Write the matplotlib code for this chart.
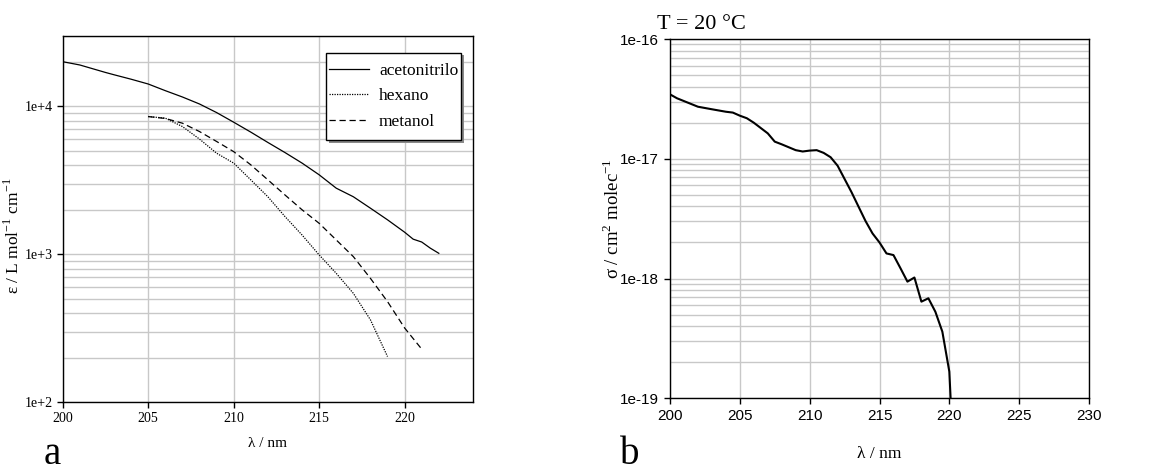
import numpy as np
import matplotlib
matplotlib.use("Agg")
import matplotlib.pyplot as plt
from matplotlib.patches import Rectangle
from matplotlib.ticker import FixedLocator, FuncFormatter, LogLocator, NullFormatter

# ---------------- data ----------------
acn_x = [200, 201, 202.5, 203, 204, 205, 206, 207, 208, 209, 210, 211, 212, 213, 214,
         215, 216, 217, 218, 219, 220, 220.5, 221, 221.5, 222]
acn_y = [20100, 19100, 17000, 16400, 15300, 14200, 12800, 11600, 10400, 9100, 7830,
         6710, 5710, 4880, 4140, 3450, 2800, 2450, 2050, 1710, 1410, 1265, 1210, 1100, 1015]

hex_x = [205, 206, 207, 208, 209, 210, 211, 212, 213, 214, 215, 216, 217, 218, 219]
hex_y = [8550, 8340, 7320, 6020, 4830, 4140, 3190, 2450, 1800, 1350, 990, 743, 544, 360, 203]

met_x = [205, 206, 207, 208, 209, 210, 211, 212, 213, 214, 215, 216, 217, 218, 219, 220, 221]
met_y = [8550, 8300, 7710, 6770, 5800, 4950, 4030, 3190, 2520, 2000, 1620, 1250, 964,
         687, 478, 317, 228]

sig_x = [200, 200.5, 202, 203, 204, 204.5, 205, 205.5, 206, 207, 207.5, 208, 209, 209.5,
         210, 210.5, 211, 211.5, 212, 212.5, 213, 213.5, 214, 214.5, 215, 215.5, 216,
         216.5, 217, 217.5, 218, 218.5, 219, 219.5, 220, 220.1]
sig_y = [3.45e-17, 3.20e-17, 2.72e-17, 2.59e-17, 2.47e-17, 2.43e-17, 2.29e-17, 2.18e-17,
         2.00e-17, 1.63e-17, 1.39e-17, 1.32e-17, 1.18e-17, 1.15e-17, 1.17e-17, 1.18e-17,
         1.12e-17, 1.03e-17, 8.75e-18, 6.78e-18, 5.25e-18, 3.98e-18, 3.02e-18, 2.38e-18,
         2.00e-18, 1.62e-18, 1.57e-18, 1.22e-18, 9.42e-19, 1.02e-18, 6.41e-19, 6.84e-19,
         5.28e-19, 3.60e-19, 1.67e-19, 9.5e-20]

labels_a = ["acetonitrilo", "hexano", "metanol"]
xticks_a = [200, 205, 210, 215, 220]
xticks_b = [200, 205, 210, 215, 220, 225, 230]

# ---------------- figure ----------------
W, H = 1152, 474
fig = plt.figure(figsize=(W / 100, H / 100), dpi=100)
serif = "Liberation Serif"
sans = "Liberation Sans"
grid_c = "#c8c8c8"

def ax_rect(l, t, r, b):
    return [l / W, 1 - b / H, (r - l) / W, (b - t) / H]

# ---- panel a ----
A_L, A_T, A_R, A_B = 62.7, 36, 473, 402
axa = fig.add_axes(ax_rect(A_L, A_T, A_R, A_B))
axa.plot(acn_x, acn_y, color="black", lw=0.9, ls="-", label=labels_a[0])
axa.plot(hex_x, hex_y, color="black", lw=0.9, ls=(0, (1, 1)), label=labels_a[1])
axa.plot(met_x, met_y, color="black", lw=0.9, ls=(0, (5, 3)), label=labels_a[2])
axa.set_yscale("log")
axa.set_xlim(200, 224)
axa.set_ylim(100, 30000)
axa.xaxis.set_major_locator(FixedLocator(xticks_a))
axa.yaxis.set_major_locator(FixedLocator([1e2, 1e3, 1e4]))
axa.yaxis.set_minor_locator(LogLocator(base=10, subs=np.arange(2, 10)))
axa.yaxis.set_minor_formatter(NullFormatter())
axa.yaxis.set_major_formatter(FuncFormatter(lambda v, p: "1e+%d" % round(np.log10(v))))
axa.grid(True, which="major", axis="both", color=grid_c, lw=1.0)
axa.grid(True, which="minor", axis="y", color=grid_c, lw=1.0)
axa.set_axisbelow(True)
axa.tick_params(axis="both", which="major", direction="out", length=4, width=1,
                labelsize=10, pad=3)
axa.tick_params(axis="y", which="minor", length=0)
for lab in axa.get_xticklabels() + axa.get_yticklabels():
    lab.set_fontfamily(serif)
axa.set_xlabel("λ / nm", fontsize=11, fontfamily=serif, labelpad=9)
axa.set_ylabel(r"ε / L mol$^{\mathregular{-1}}$ cm$^{\mathregular{-1}}$", fontsize=12.5,
               fontfamily=serif)
axa.yaxis.set_label_coords(-0.097, 0.454)
for s in axa.spines.values():
    s.set_linewidth(1.0)

# legend box (frame drawn as patches at the reference location)
aw, ah = A_R - A_L, A_B - A_T
bx0, bx1 = (326 - A_L) / aw, (461 - A_L) / aw
by0, by1 = (A_B - 140) / ah, (A_B - 52.7) / ah
axa.add_patch(Rectangle((bx0 + 2.5 / aw, by0 - 2.5 / ah), bx1 - bx0, by1 - by0,
                        transform=axa.transAxes, facecolor="#8a8a8a", edgecolor="none",
                        zorder=4, clip_on=False))
axa.add_patch(Rectangle((bx0, by0), bx1 - bx0, by1 - by0, transform=axa.transAxes,
                        facecolor="white", edgecolor="black", lw=1.0, zorder=4.5,
                        clip_on=False))
leg = axa.legend(loc="center", bbox_to_anchor=((bx0 + bx1) / 2, (by0 + by1) / 2),
                 prop={"family": serif, "size": 12.5}, frameon=False,
                 handlelength=2.3, labelspacing=0.55, borderpad=0.0, handletextpad=0.6,
                 borderaxespad=0)
leg.set_zorder(5)

fig.text(44 / W, 0.002, "a", fontsize=28, fontfamily=serif, va="bottom", ha="left")

# ---- panel b ----
axb = fig.add_axes(ax_rect(670, 39, 1089, 398.3))
axb.plot(sig_x, sig_y, color="black", lw=1.5)
axb.set_yscale("log")
axb.set_xlim(200, 230)
axb.set_ylim(1e-19, 1e-16)
axb.xaxis.set_major_locator(FixedLocator(xticks_b))
axb.yaxis.set_major_locator(FixedLocator([1e-19, 1e-18, 1e-17, 1e-16]))
axb.yaxis.set_minor_locator(LogLocator(base=10, subs=np.arange(2, 10)))
axb.yaxis.set_minor_formatter(NullFormatter())
axb.yaxis.set_major_formatter(FuncFormatter(lambda v, p: "1e-%d" % round(-np.log10(v))))
axb.grid(True, which="major", axis="both", color=grid_c, lw=1.0)
axb.grid(True, which="minor", axis="y", color=grid_c, lw=1.0)
axb.set_axisbelow(True)
axb.tick_params(axis="both", which="major", direction="out", length=4, width=1,
                labelsize=11, pad=4)
axb.tick_params(axis="y", which="minor", length=0)
for lab in axb.get_xticklabels() + axb.get_yticklabels():
    lab.set_fontfamily(sans)
for s in axb.spines.values():
    s.set_linewidth(1.0)
axb.set_xlabel("λ / nm", fontsize=12.5, fontfamily=serif, labelpad=16)
axb.set_ylabel(r"σ / cm$^{\mathregular{2}}$ molec$^{\mathregular{-1}}$", fontsize=13.5,
               fontfamily=serif)
axb.yaxis.set_label_coords(-0.113, 0.5)

fig.text(657 / W, 1 - 29 / H, "T = 20 °C", fontsize=16, fontfamily=serif, va="baseline", ha="left")
fig.text(620 / W, 0.002, "b", fontsize=28, fontfamily=serif, va="bottom", ha="left")

fig.savefig("out.png", dpi=100, facecolor="white")
